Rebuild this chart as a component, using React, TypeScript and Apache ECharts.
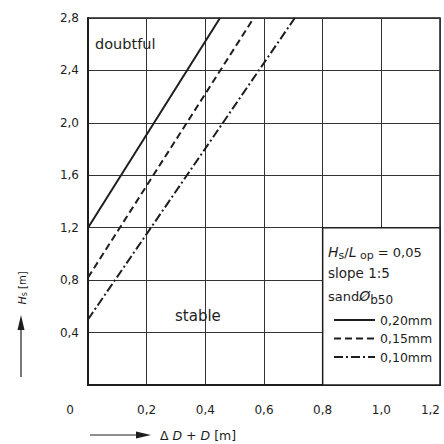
import React, { useEffect, useRef } from "react";
import * as echarts from "echarts";

const xTickValues = [0, 0.2, 0.4, 0.6, 0.8, 1.0, 1.2];
const yTickValues = [0, 0.4, 0.8, 1.2, 1.6, 2.0, 2.4, 2.8];
const seriesNames = ["0,20mm", "0,15mm", "0,10mm"];
const solidLine = [[0, 1.2], [0.45, 2.8]];
const dashedLine = [[0, 0.82], [0.565, 2.8]];
const dashDotLine = [[0, 0.5], [0.705, 2.8]];
const legendBox = [[0.8, 0], [1.2, 1.2]];

const INK = "#1e1e1e";
const FONT = "DejaVu Sans";

function fmt(v: number) {
  return v === 0 ? "" : v.toFixed(1).replace(".", ",");
}

export default function App() {
  const ref = useRef<HTMLDivElement>(null);
  useEffect(() => {
    if (!ref.current) return;
    const chart = echarts.init(ref.current, undefined, { renderer: "svg", width: 444, height: 444 });
    const lineSeries = (name: string, data: number[][], type: any, extra: any = {}) => ({
      name,
      type: "line",
      data,
      symbol: "none",
      lineStyle: { color: INK, width: 2, type },
      itemStyle: { color: INK },
      z: 3,
      ...extra,
    });
    const T = (o: any) => ({ type: "text", z: 20, ...o });
    chart.setOption({
      animation: false,
      backgroundColor: "#fff",
      textStyle: { fontFamily: FONT, color: INK },
      grid: {
        left: 88,
        right: 4,
        top: 18,
        bottom: 59,
        outerBoundsMode: "none",
        containLabel: false,
        show: true,
        borderColor: INK,
        borderWidth: 1.5,
      },
      xAxis: {
        type: "value",
        min: xTickValues[0],
        max: xTickValues[xTickValues.length - 1],
        interval: 0.2,
        axisLine: { show: true, onZero: false, lineStyle: { color: INK, width: 2 } },
        axisTick: { show: false },
        splitLine: { show: true, lineStyle: { color: "#333", width: 1 } },
        axisLabel: {
          formatter: fmt, margin: 19, fontSize: 12, color: INK, fontFamily: FONT,
          showMaxLabel: true, alignMaxLabel: "right",
        },
      },
      yAxis: {
        type: "value",
        min: yTickValues[0],
        max: yTickValues[yTickValues.length - 1],
        interval: 0.4,
        axisLine: { show: true, onZero: false, lineStyle: { color: INK, width: 2 } },
        axisTick: { show: false },
        splitLine: { show: true, lineStyle: { color: "#333", width: 1 } },
        axisLabel: { formatter: fmt, margin: 9, fontSize: 12, color: INK, fontFamily: FONT },
      },
      legend: {
        orient: "vertical",
        left: 333,
        top: 313,
        padding: 0,
        itemWidth: 41,
        itemHeight: 10,
        itemGap: 4.5,
        selectedMode: false,
        itemStyle: { color: "transparent", borderWidth: 0, opacity: 0 },
        textStyle: { fontSize: 12.5, lineHeight: 14, color: INK, fontFamily: FONT },
        data: seriesNames,
      },
      series: [
        lineSeries(seriesNames[0], solidLine, "solid", {
          markArea: {
            silent: true,
            itemStyle: { color: "#fff", borderColor: INK, borderWidth: 1.5 },
            data: [[{ coord: legendBox[0] }, { coord: legendBox[1] }]],
          },
        }),
        lineSeries(seriesNames[1], dashedLine, [7, 4]),
        lineSeries(seriesNames[2], dashDotLine, [9, 3, 2, 3]),
      ],
      graphic: [
        T({ x: 70, y: 410, style: { text: "0", fill: INK, font: `12px ${FONT}`, align: "center", verticalAlign: "middle" } }),
        T({ x: 95, y: 44, style: { text: "doubtful", fill: INK, font: `14.5px ${FONT}`, verticalAlign: "middle" } }),
        T({ x: 175, y: 316, style: { text: "stable", fill: INK, font: `15px ${FONT}`, verticalAlign: "middle" } }),
        T({
          x: 328, y: 252,
          style: {
            text: "{i|H}{s|s}/{i|L}{s| op} = 0,05",
            fill: INK, font: `13px ${FONT}`, verticalAlign: "middle",
            rich: {
              i: { fontStyle: "italic", fontSize: 14, fontFamily: FONT, fill: INK },
              s: { fontSize: 11, fontFamily: FONT, padding: [6, 0, 0, 0], fill: INK },
            },
          },
        }),
        T({ x: 328, y: 273, style: { text: "slope 1:5", fill: INK, font: `13.5px ${FONT}`, verticalAlign: "middle" } }),
        T({
          x: 328, y: 296,
          style: {
            text: "sand{i|Ø}{s|b50}",
            fill: INK, font: `13px ${FONT}`, verticalAlign: "middle",
            rich: {
              i: { fontStyle: "italic", fontSize: 14, fontFamily: FONT, fill: INK },
              s: { fontSize: 12, fontFamily: FONT, padding: [8, 0, 0, 0], fill: INK },
            },
          },
        }),
        T({
          x: 22, y: 288, rotation: Math.PI / 2,
          style: {
            text: "{i|H}{s|s} [m]",
            fill: INK, font: `10px ${FONT}`, align: "center", verticalAlign: "middle",
            rich: {
              i: { fontStyle: "italic", fontSize: 11, fontFamily: FONT, fill: INK },
              s: { fontSize: 8, fontFamily: FONT, padding: [5, 0, 0, 0], fill: INK },
            },
          },
        }),
        { type: "line", z: 20, shape: { x1: 21, y1: 377, x2: 21, y2: 325 }, style: { stroke: INK, lineWidth: 1.2 } },
        { type: "polygon", z: 20, shape: { points: [[21, 315], [17.5, 330], [24.5, 330]] }, style: { fill: INK } },
        { type: "line", z: 20, shape: { x1: 90, y1: 435, x2: 140, y2: 435 }, style: { stroke: INK, lineWidth: 1.2 } },
        { type: "polygon", z: 20, shape: { points: [[151, 435], [136, 431.5], [136, 438.5]] }, style: { fill: INK } },
        T({
          x: 160, y: 435,
          style: {
            text: "Δ {i|D} + {i|D} [m]",
            fill: INK, font: `12.5px ${FONT}`, verticalAlign: "middle",
            rich: { i: { fontStyle: "italic", fontSize: 12.5, fontFamily: FONT, fill: INK } },
          },
        }),
      ],
    });
    return () => chart.dispose();
  }, []);
  return <div ref={ref} style={{ position: "fixed", left: 0, top: 0, width: 444, height: 444 }} />;
}
